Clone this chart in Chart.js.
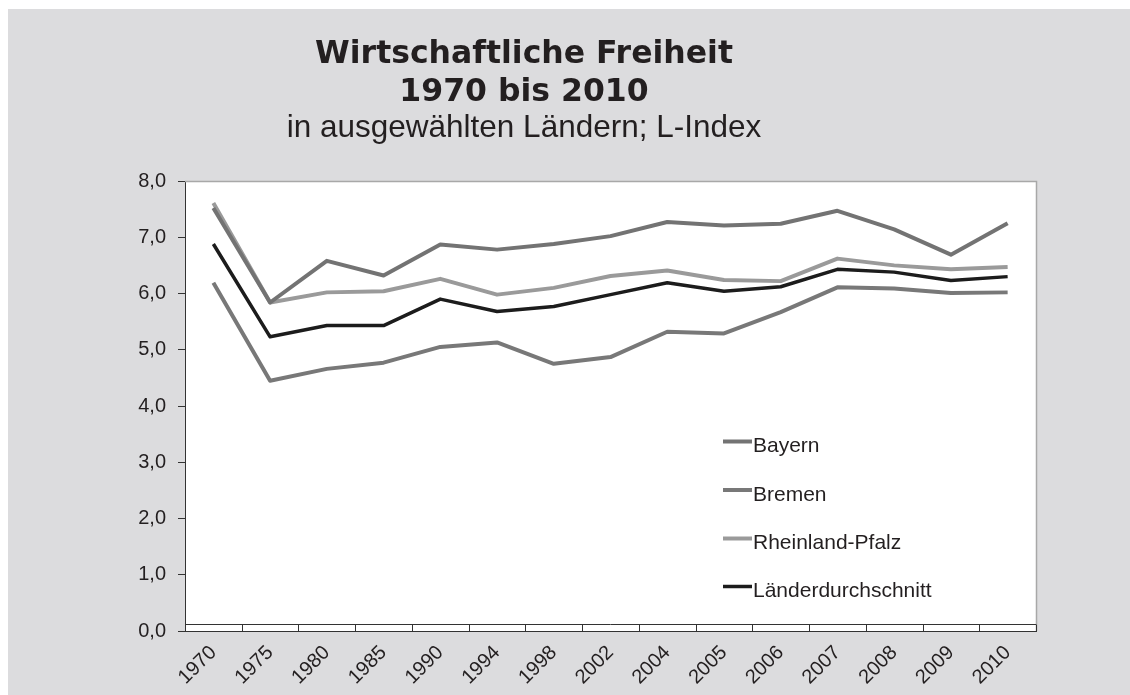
<!DOCTYPE html>
<html>
<head>
<meta charset="utf-8">
<script src="https://cdn.jsdelivr.net/npm/chart.js@4/dist/chart.umd.min.js"></script>
<style>
  html, body { margin: 0; padding: 0; background: #ffffff; }
  #wrap { width: 1130px; height: 695px; }
</style>
</head>
<body>
<div id="wrap"><canvas id="c" width="1130" height="695"></canvas></div>
<script>
const titleLines = ['Wirtschaftliche Freiheit', '1970 bis 2010'];
const subtitleText = 'in ausgewählten Ländern; L-Index';
const years = ['1970','1975','1980','1985','1990','1994','1998','2002','2004','2005','2006','2007','2008','2009','2010'];
const seriesNames = ['Bayern', 'Bremen', 'Rheinland-Pfalz', 'Länderdurchschnitt'];
const bayern = [7.52, 5.84, 6.58, 6.32, 6.87, 6.78, 6.88, 7.02, 7.27, 7.21, 7.24, 7.47, 7.14, 6.69, 7.25];
const bremen = [6.19, 4.45, 4.66, 4.77, 5.05, 5.13, 4.75, 4.87, 5.32, 5.29, 5.67, 6.11, 6.09, 6.01, 6.02];
const rheinlandPfalz = [7.61, 5.84, 6.02, 6.04, 6.26, 5.98, 6.10, 6.31, 6.41, 6.24, 6.22, 6.62, 6.50, 6.43, 6.47];
const laenderSchnitt = [6.88, 5.23, 5.43, 5.43, 5.90, 5.68, 5.77, 5.98, 6.19, 6.04, 6.12, 6.43, 6.38, 6.23, 6.30];
const yMin = 0, yMax = 8, yStep = 1;

const colors = ['#737373', '#787878', '#9a9a9a', '#1c1c1c'];
const widths = [4, 4, 4, 3.5];
const allSeries = [bayern, bremen, rheinlandPfalz, laenderSchnitt];

const bgPlugin = {
  id: 'bg',
  beforeDraw(chart) {
    const { ctx, chartArea: a } = chart;
    ctx.save();
    ctx.fillStyle = '#ffffff';
    ctx.fillRect(0, 0, chart.width, chart.height);
    ctx.fillStyle = '#dcdcde';
    ctx.fillRect(8, 9, chart.width - 8, chart.height - 9);
    ctx.fillStyle = '#ffffff';
    ctx.fillRect(a.left, a.top, a.right - a.left, a.bottom - a.top);
    // titles
    ctx.fillStyle = '#231f20';
    ctx.textAlign = 'center';
    ctx.textBaseline = 'alphabetic';
    ctx.font = 'bold 31.5px "DejaVu Sans"';
    ctx.fillText(titleLines[0], 524, 63);
    ctx.fillText(titleLines[1], 524, 100.5);
    ctx.font = '31.5px "Liberation Sans"';
    ctx.fillText(subtitleText, 524, 137);
    ctx.restore();
  },
  afterDraw(chart) {
    const { ctx, chartArea: a } = chart;
    const xs = chart.scales.x;
    ctx.save();
    // top and right border of plot area
    ctx.strokeStyle = '#a8a8a8';
    ctx.lineWidth = 1.5;
    ctx.beginPath();
    ctx.moveTo(a.left, a.top + 0.5);
    ctx.lineTo(a.right + 0.5, a.top + 0.5);
    ctx.lineTo(a.right + 0.5, a.bottom);
    ctx.stroke();
    // inner tick box on category axis
    ctx.strokeStyle = '#333333';
    ctx.lineWidth = 1;
    const yb = Math.round(a.bottom) + 0.5;
    const yt = yb - 7;
    ctx.beginPath();
    ctx.moveTo(a.left, yt);
    ctx.lineTo(a.right, yt);
    const n = xs.ticks.length;
    const step = n > 1 ? xs.getPixelForTick(1) - xs.getPixelForTick(0) : 0;
    for (let i = 0; i <= n; i++) {
      const x = Math.round(xs.getPixelForTick(0) - step / 2 + i * step) + 0.5;
      ctx.moveTo(x, yt);
      ctx.lineTo(x, yb);
    }
    ctx.stroke();
    // legend
    const lx = 723, lw = 29;
    const baseY = [452, 500.5, 549, 597];
    chart.data.datasets.forEach((ds, i) => {
      const y = baseY[i];
      ctx.strokeStyle = ds.borderColor;
      ctx.lineWidth = ds.borderWidth;
      ctx.beginPath();
      ctx.moveTo(lx, y - 10.5);
      ctx.lineTo(lx + lw, y - 10.5);
      ctx.stroke();
      ctx.fillStyle = '#231f20';
      ctx.font = '21px "Liberation Sans"';
      ctx.textAlign = 'left';
      ctx.textBaseline = 'alphabetic';
      ctx.fillText(ds.label, lx + lw + 1, y);
    });
    ctx.restore();
  }
};

new Chart(document.getElementById('c'), {
  type: 'line',
  data: {
    labels: years,
    datasets: seriesNames.map((name, i) => ({
      label: name,
      data: allSeries[i],
      borderColor: colors[i],
      backgroundColor: colors[i],
      borderWidth: widths[i],
      pointRadius: 0,
      pointHoverRadius: 0,
      tension: 0,
      borderJoinStyle: 'round',
      borderCapStyle: 'butt',
      fill: false
    }))
  },
  options: {
    responsive: false,
    animation: false,
    events: [],
    layout: { padding: { left: 0, right: 94, top: 181, bottom: 0 } },
    plugins: {
      legend: { display: false },
      title: { display: false },
      tooltip: { enabled: false }
    },
    scales: {
      x: {
        type: 'category',
        offset: true,
        grid: { offset: true, drawOnChartArea: false, drawTicks: false },
        border: { display: true, color: '#333333', width: 1 },
        ticks: {
          autoSkip: false,
          minRotation: 45,
          maxRotation: 45,
          padding: 10,
          color: '#231f20',
          font: { family: '"Liberation Sans"', size: 20 }
        },
        afterFit(scale) { scale.height = 64; }
      },
      y: {
        min: yMin,
        max: yMax,
        grid: { drawOnChartArea: false, drawTicks: true, tickLength: 7, color: '#333333' },
        border: { display: true, color: '#333333', width: 1 },
        ticks: {
          stepSize: yStep,
          padding: 12,
          color: '#231f20',
          font: { family: '"Liberation Sans"', size: 20 },
          callback: (v) => v.toFixed(1).replace('.', ',')
        },
        afterFit(scale) { scale.width = 185; }
      }
    }
  },
  plugins: [bgPlugin]
});
</script>
</body>
</html>
